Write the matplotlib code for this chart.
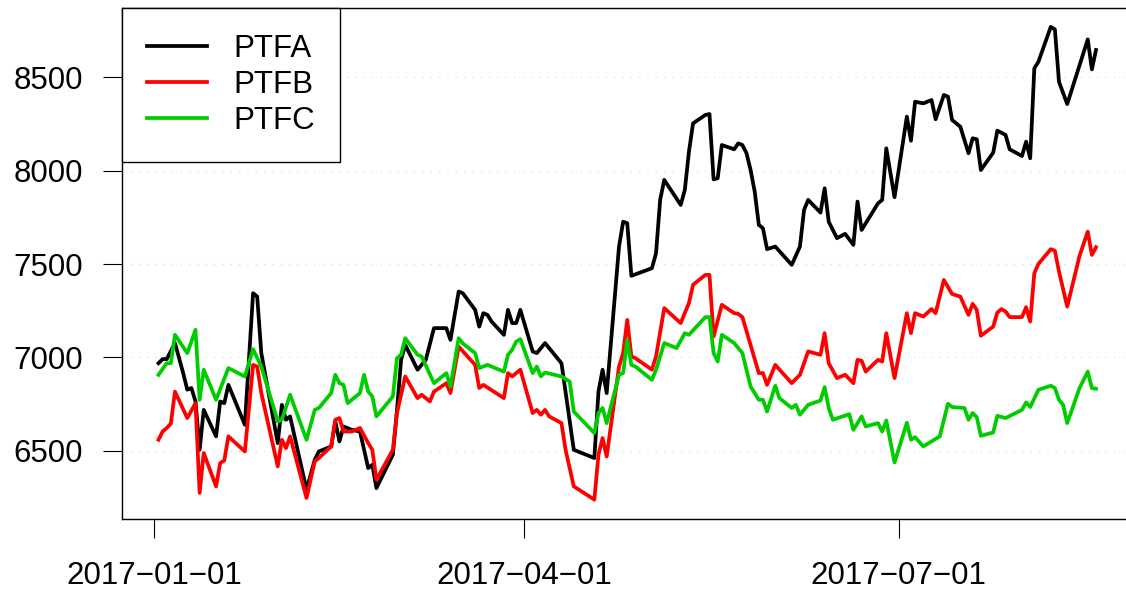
import numpy as np
import matplotlib
matplotlib.use('Agg')
import matplotlib.pyplot as plt

plt.rcParams['font.family'] = ['Liberation Sans', 'DejaVu Sans']
plt.rcParams['lines.scale_dashes'] = False

# days counted from 2017-01-01
day_a = [1, 2, 3, 5, 7, 8, 9, 10, 11, 12, 15, 16, 17, 18, 22, 24, 25, 26, 30, 31, 32, 33,
         37, 39, 40, 42, 43, 44, 45, 46, 48, 50, 52, 53, 54, 58, 59, 60, 61, 64, 66, 68, 71,
         72, 74, 75, 78, 79, 80, 81, 82, 85, 86, 87, 88, 89, 92, 93, 95, 99, 102, 107, 108,
         109, 110, 113, 114, 115, 116, 121, 122, 123, 124, 128, 129, 130, 131, 134, 135, 136,
         137, 138, 141, 142, 143, 144, 145, 146, 147, 148, 149, 151, 155, 157, 158, 159, 162,
         163, 164, 166, 168, 170, 171, 172, 176, 177, 178, 180, 183, 184, 185, 187, 189, 190,
         192, 193, 194, 196, 198, 199, 200, 201, 204, 205, 207, 208, 211, 212, 213, 214, 215,
         218, 219, 220, 222, 227, 228, 229]
ptfa = [6969, 6991, 6991, 7077, 6916, 6827, 6836, 6764, 6505, 6719, 6577, 6764, 6755, 6853,
        6639, 7344, 7326, 7023, 6541, 6746, 6666, 6684, 6291, 6452, 6496, 6514, 6523, 6657,
        6550, 6630, 6612, 6603, 6407, 6425, 6300, 6479, 6719, 6987, 7067, 6934, 6987, 7157,
        7157, 7094, 7353, 7344, 7255, 7165, 7237, 7228, 7192, 7121, 7255, 7184, 7184, 7255,
        7032, 7023, 7077, 6969, 6505, 6461, 6817, 6934, 6809, 7594, 7727, 7719, 7437, 7478,
        7558, 7844, 7951, 7817, 7897, 8102, 8254, 8299, 8304, 7954, 7960, 8138, 8115, 8147,
        8138, 8094, 8004, 7888, 7710, 7692, 7580, 7594, 7496, 7594, 7790, 7844, 7776, 7906,
        7727, 7639, 7662, 7603, 7835, 7683, 7826, 7844, 8120, 7858, 8290, 8161, 8370, 8361,
        8379, 8276, 8406, 8397, 8272, 8236, 8094, 8174, 8169, 8004, 8097, 8215, 8192, 8115,
        8079, 8156, 8067, 8549, 8584, 8771, 8757, 8477, 8357, 8704, 8543, 8647]

day_b = [1, 2, 3, 4, 5, 8, 10, 11, 12, 15, 16, 17, 18, 22, 24, 25, 26, 30, 31, 32, 33, 37,
         39, 40, 43, 44, 45, 46, 48, 50, 52, 53, 54, 58, 59, 61, 64, 65, 67, 68, 71, 72, 74,
         78, 79, 80, 85, 86, 87, 89, 92, 93, 94, 95, 96, 99, 100, 102, 107, 108, 109, 110,
         113, 114, 115, 116, 117, 121, 122, 124, 128, 130, 131, 134, 135, 136, 138, 141, 142,
         143, 147, 148, 149, 151, 155, 157, 159, 162, 163, 164, 166, 168, 170, 171, 172, 173,
         176, 177, 178, 180, 183, 184, 185, 187, 189, 190, 192, 194, 196, 198, 199, 200, 201,
         204, 205, 206, 207, 208, 211, 212, 213, 214, 215, 218, 219, 220, 222, 225, 227, 228,
         229]
ptfb = [6559, 6603, 6622, 6645, 6817, 6675, 6755, 6274, 6488, 6309, 6434, 6448, 6577, 6496,
        6960, 6951, 6809, 6416, 6559, 6514, 6577, 6247, 6443, 6461, 6523, 6666, 6675, 6603,
        6603, 6622, 6541, 6505, 6345, 6505, 6702, 6898, 6782, 6800, 6764, 6817, 6862, 6809,
        7058, 6960, 6836, 6853, 6782, 6916, 6898, 6934, 6702, 6719, 6693, 6719, 6684, 6648,
        6505, 6309, 6238, 6479, 6568, 6469, 6951, 7023, 7201, 7005, 6996, 6934, 7005, 7264,
        7184, 7291, 7389, 7442, 7442, 7112, 7282, 7237, 7233, 7216, 6916, 6916, 6853, 6960,
        6862, 6907, 7032, 7014, 7130, 6969, 6889, 6907, 6862, 6987, 6982, 6924, 6987, 6978,
        7130, 6889, 7237, 7130, 7237, 7219, 7259, 7237, 7415, 7340, 7326, 7228, 7287, 7255,
        7116, 7165, 7240, 7259, 7246, 7216, 7216, 7269, 7192, 7451, 7501, 7580, 7572, 7460,
        7272, 7544, 7674, 7549, 7590]

day_c = [1, 3, 4, 5, 8, 10, 11, 12, 15, 18, 22, 24, 26, 30, 31, 33, 37, 39, 40, 43, 44, 45,
         46, 47, 50, 51, 52, 53, 54, 58, 59, 60, 61, 64, 65, 68, 71, 72, 74, 75, 78, 79, 81,
         85, 86, 87, 88, 89, 92, 93, 94, 95, 99, 101, 102, 107, 108, 109, 110, 113, 114, 115,
         116, 117, 121, 122, 124, 127, 129, 130, 134, 135, 136, 137, 138, 141, 142, 143, 145,
         147, 148, 149, 151, 152, 155, 156, 157, 159, 162, 163, 164, 165, 169, 170, 172, 173,
         176, 177, 178, 180, 183, 184, 185, 187, 191, 193, 194, 197, 198, 199, 200, 201, 204,
         205, 207, 211, 212, 213, 215, 218, 219, 220, 221, 222, 225, 227, 228, 229]
ptfc = [6907, 6969, 6969, 7121, 7023, 7148, 6773, 6934, 6773, 6943, 6898, 7044, 6951, 6657,
        6666, 6800, 6559, 6719, 6729, 6809, 6907, 6862, 6853, 6755, 6809, 6907, 6817, 6791,
        6684, 6791, 6996, 7014, 7103, 7014, 7005, 6862, 6916, 6844, 7103, 7075, 7023, 6943,
        6960, 6924, 7014, 7041, 7085, 7098, 6916, 6951, 6898, 6919, 6898, 6871, 6710, 6595,
        6702, 6729, 6648, 6907, 6916, 7094, 6960, 6951, 6880, 6934, 7077, 7050, 7130, 7121,
        7216, 7216, 7023, 6978, 7121, 7077, 7050, 7023, 6844, 6773, 6773, 6710, 6848, 6782,
        6729, 6746, 6693, 6746, 6769, 6841, 6729, 6666, 6696, 6612, 6684, 6630, 6648, 6603,
        6662, 6437, 6650, 6559, 6573, 6523, 6577, 6752, 6734, 6729, 6666, 6702, 6680, 6580,
        6598, 6687, 6675, 6719, 6759, 6734, 6827, 6848, 6836, 6773, 6746, 6648, 6836, 6924,
        6836, 6832]

series_names = ['PTFA', 'PTFB', 'PTFC']
series_colors = ['black', '#FF0000', '#00CD00']
y_ticks = [6500, 7000, 7500, 8000, 8500]
x_ticks = ['2017-01-01', '2017-04-01', '2017-07-01']

start = np.datetime64('2017-01-01')

fig = plt.figure(figsize=(11.26, 5.95), dpi=100)
ax = fig.add_axes([121.5 / 1126, 76.5 / 595, (1133 - 121.5) / 1126, (518.5 - 8) / 595])

for y in y_ticks:
    ax.axhline(y, color='#D3D3D3', lw=0.75, ls=(0, (0.75, 5.25)), zorder=1)

for days, vals, name, col in zip([day_a, day_b, day_c], [ptfa, ptfb, ptfc],
                                 series_names, series_colors):
    ax.plot(start + np.array(days), vals, color=col, lw=2.7, label=name, zorder=3)

ax.set_xlim(start + np.timedelta64(-8, 'D'), start + np.timedelta64(238, 'D'))
ax.set_ylim(6137, 8872)

ax.set_yticks(y_ticks)
ax.set_yticklabels([str(v) for v in y_ticks])
ax.set_xticks([np.datetime64(t) for t in x_ticks])
ax.set_xticklabels([t.replace('-', '\u2212') for t in x_ticks])
ax.tick_params(axis='both', labelsize=22.5, length=13.5, width=0.8, direction='out')
ax.tick_params(axis='y', pad=14)
ax.tick_params(axis='x', pad=17)
for sp in ax.spines.values():
    sp.set_linewidth(1.0)

leg = ax.legend(loc='upper left', fontsize=22.5, frameon=True, fancybox=False,
                edgecolor='black', framealpha=1, borderaxespad=0, borderpad=0.82,
                handlelength=1.9, handletextpad=0.85, labelspacing=0.2)
leg.get_frame().set_linewidth(1.0)
for line in leg.get_lines():
    line.set_linewidth(2.7)

fig.savefig('out.png', dpi=100)
